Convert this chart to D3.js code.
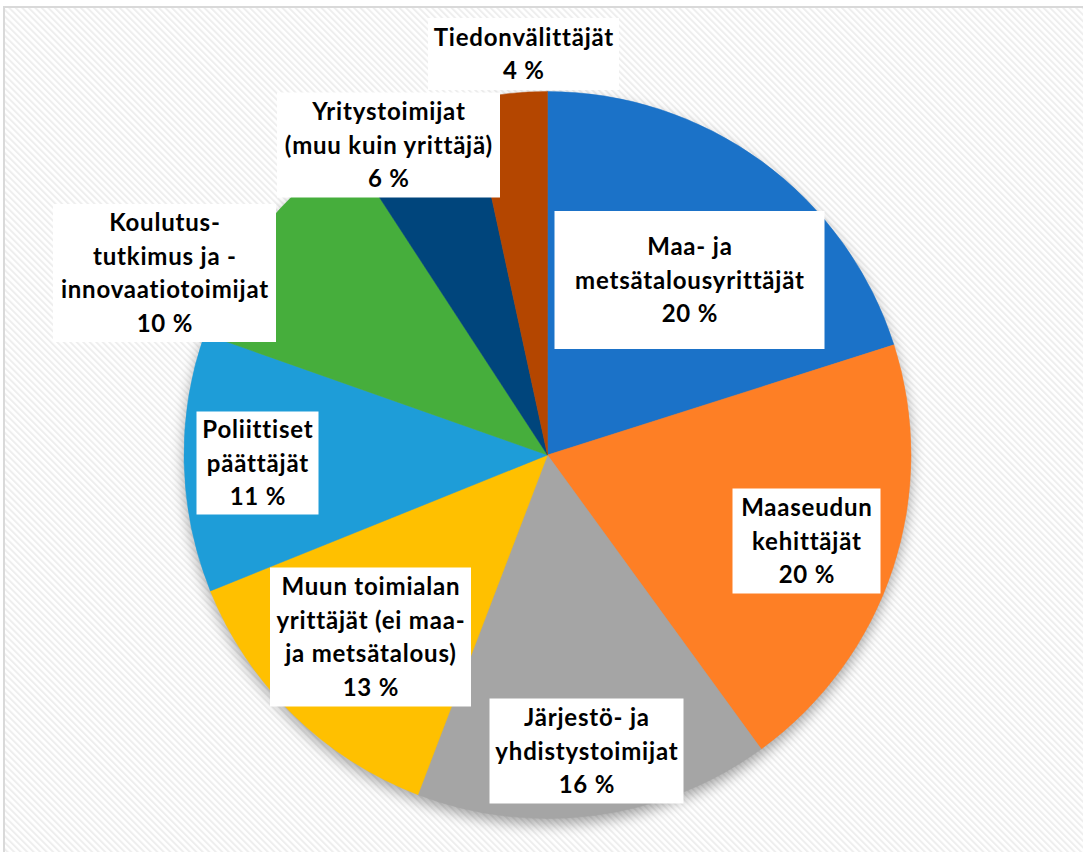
<!DOCTYPE html>
<html lang="fi">
<head>
<meta charset="utf-8">
<title>Toimijaryhmät</title>
<style>
  body { margin: 0; background: #fff; }
  text { font-family: Lato, "Noto Sans", sans-serif; font-weight: bold; fill: #000; text-anchor: middle; }
</style>
</head>
<body>
<svg width="1083" height="852"></svg>
<script src="https://cdn.jsdelivr.net/npm/d3@7"></script>
<script>
// data, clockwise from 12 o'clock
var groups = [
  ["Maa- ja", "metsätalousyrittäjät"],
  ["Maaseudun", "kehittäjät"],
  ["Järjestö- ja", "yhdistystoimijat"],
  ["Muun toimialan", "yrittäjät (ei maa-", "ja metsätalous)"],
  ["Poliittiset", "päättäjät"],
  ["Koulutus-", "tutkimus ja -", "innovaatiotoimijat"],
  ["Yritystoimijat", "(muu kuin yrittäjä)"],
  ["Tiedonvälittäjät"]
];
var shares = [20.1, 19.9, 15.8, 13.1, 11.5, 10.4, 5.8, 3.4];
var shownPct = ["20 %", "20 %", "16 %", "13 %", "11 %", "10 %", "6 %", "4 %"];
var colors = ["#1B72C8", "#FE7F25", "#A5A5A5", "#FFC000", "#1E9DD8", "#46AE3C", "#00457C", "#B44600"];

// label boxes were dragged by hand in the original: offset from pie centre + box size
var labelBox = [
  [142, -175, 270, 138],
  [259, 86, 148, 105],
  [39, 296, 194, 105],
  [-177, 182, 201, 139],
  [-290, 8, 122, 103],
  [-383, -182, 223, 138],
  [-159, -310, 223, 105],
  [-24, -401, 191, 72]
];

var svg = d3.select("svg"),
    width = +svg.attr("width"),
    height = +svg.attr("height");

var cx = 547.5, cy = 455, radius = 363.5;

var defs = svg.append("defs");

// light diagonal hatch of the chart area
var pat = defs.append("pattern")
    .attr("id", "hatch")
    .attr("patternUnits", "userSpaceOnUse")
    .attr("width", 4.6).attr("height", 4.6)
    .attr("patternTransform", "rotate(-45)");
pat.append("rect").attr("width", 4.6).attr("height", 4.6).attr("fill", "#fff");
pat.append("rect").attr("width", 2).attr("height", 4.6).attr("fill", "#EEEEEE");

var shadow = defs.append("filter")
    .attr("id", "shadow")
    .attr("x", "-20%").attr("y", "-20%").attr("width", "140%").attr("height", "140%");
shadow.append("feGaussianBlur").attr("in", "SourceAlpha").attr("stdDeviation", 7);
shadow.append("feOffset").attr("dx", 0).attr("dy", 6).attr("result", "b");
shadow.append("feComponentTransfer").append("feFuncA").attr("type", "linear").attr("slope", 0.35);

// chart area
svg.append("rect")
    .attr("x", 4).attr("y", 7)
    .attr("width", width + 10).attr("height", height + 10)
    .attr("fill", "url(#hatch)")
    .attr("stroke", "#D9D9D9")
    .attr("stroke-width", 2);

var g = svg.append("g").attr("transform", "translate(" + cx + "," + cy + ")");

var pie = d3.pie().sort(null).value(function(d) { return d; });
var arc = d3.arc().innerRadius(0).outerRadius(radius);
var arcs = pie(shares);

g.append("circle").attr("r", radius).attr("fill", "#000").attr("filter", "url(#shadow)");

g.selectAll("path.slice")
    .data(arcs)
  .enter().append("path")
    .attr("class", "slice")
    .attr("d", arc)
    .attr("fill", function(d, i) { return colors[i]; })
    .attr("stroke", function(d, i) { return colors[i]; })
    .attr("stroke-width", 0.5);

var lineH = 33.5;

var label = g.selectAll("g.label")
    .data(arcs)
  .enter().append("g")
    .attr("class", "label")
    .attr("transform", function(d, i) { return "translate(" + labelBox[i][0] + "," + labelBox[i][1] + ")"; });

label.append("rect")
    .attr("x", function(d, i) { return -labelBox[i][2] / 2; })
    .attr("y", function(d, i) { return -labelBox[i][3] / 2; })
    .attr("width", function(d, i) { return labelBox[i][2]; })
    .attr("height", function(d, i) { return labelBox[i][3]; })
    .attr("fill", "#fff");

label.each(function(d, i) {
  var lines = groups[i].concat([shownPct[i]]);
  var y0 = -(lines.length - 1) * lineH / 2;
  d3.select(this).selectAll("text")
      .data(lines)
    .enter().append("text")
      .attr("x", 0.4)
      .attr("y", function(t, j) { return y0 + j * lineH; })
      .attr("dy", "0.36em")
      .style("font-size", "24px")
      .style("letter-spacing", "0.8px")
      .text(function(t) { return t; });
});
</script>
</body>
</html>
